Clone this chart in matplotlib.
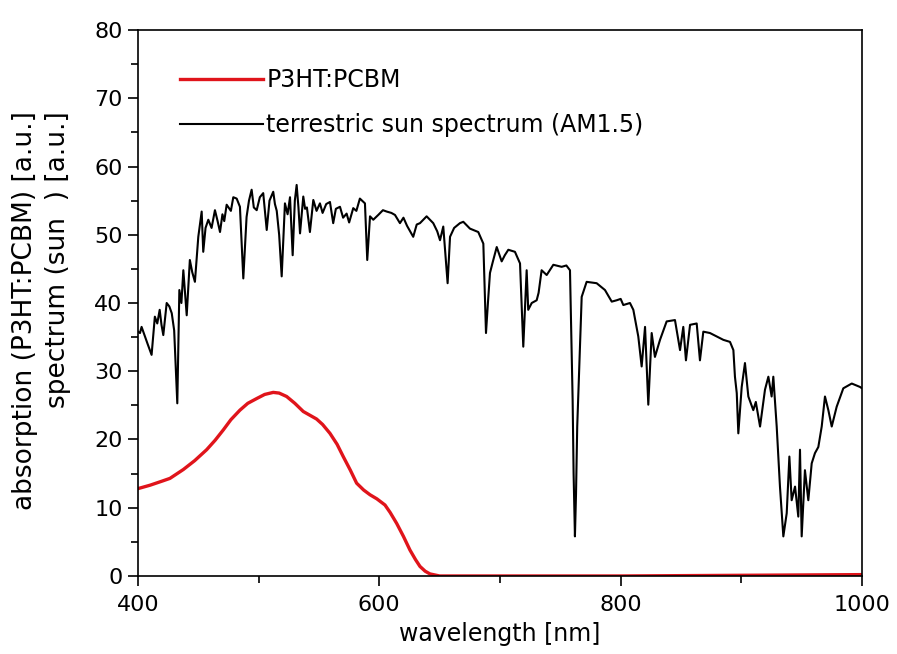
import matplotlib
matplotlib.use("Agg")
import matplotlib.pyplot as plt
from matplotlib.ticker import MultipleLocator

plt.rcParams['font.family'] = ['DejaVu Sans']

# terrestrial sun spectrum (AM1.5)
sun_nm = [400, 401.7, 403, 405.8, 408, 411.3, 414, 416, 418, 419.5, 421, 423.8,
          426, 428, 430, 432.6, 434.3, 436, 437.6, 440.4, 443, 445, 447.2, 450,
          452.8, 454.1, 456, 458.3, 461, 463.8, 466, 468, 470, 471.5, 473.5, 477,
          479, 481.8, 484.5, 487.3, 490, 492, 494.2, 496, 498.4, 501, 503.8,
          506.7, 509, 512.1, 513.5, 515, 517, 519.1, 521.8, 524, 526, 528.2, 530,
          531.5, 533, 534.3, 537, 538.5, 540, 542.5, 545.3, 548, 550.8, 553,
          556, 559.1, 561.8, 564, 567.4, 570, 572.9, 575, 578.4, 581, 583.9,
          588.1, 590, 592.3, 595, 599.1, 603, 606.1, 610, 613, 617.1, 620, 623,
          628.1, 631, 633.7, 639.2, 644.7, 648, 650.3, 653, 656.6, 658.6, 662,
          666.8, 669.6, 675.1, 682, 686.2, 688.4, 690, 691.7, 694, 697.3, 701.4,
          704, 706.9, 712.4, 716.6, 719.3, 722.1, 723.4, 726.3, 730.4, 732, 734.5,
          738.7, 744.2, 751.1, 755, 758, 760.2, 761, 762.1, 763, 764, 767.7, 771.8,
          780.1, 787, 792.6, 796.7, 800, 802.2, 807.7, 810.5, 814.6, 817.4, 820.2,
          822.9, 825.7, 828.4, 832.6, 838.1, 845, 849.2, 851.9, 854.1, 857.5, 863,
          865.7, 868.5, 874, 879.6, 885.1, 890.6, 893.4, 894.7, 896.2, 897.5, 900.3,
          903, 905.8, 909.9, 912, 915.5, 919.6, 922.4, 925.1, 926.5, 929.3, 932,
          934.8, 937.6, 939.8, 941.7, 944.5, 947.2, 948.6, 950, 952.7, 955.5, 958.3,
          961, 963.8, 966.6, 969.3, 972.1, 974.9, 979, 984.5, 991.5, 998.3, 1000]
sun_val = [35.8, 35.6, 36.5, 35.1, 34, 32.4, 38, 37, 39, 36.8, 35.3, 40,
           39.5, 38.5, 36, 25.3, 41.9, 40, 44.8, 38.2, 46.3, 44.5, 43.1, 49.7,
           53.4, 47.5, 51, 52.2, 51, 53.6, 52, 50.4, 53, 52, 54.4, 53.5,
           55.5, 55.3, 54.1, 43.6, 52.6, 55, 56.6, 54, 53.6, 55.5, 56.1,
           50.7, 55, 56.3, 54.5, 53.5, 50, 43.9, 54.6, 53, 55.5, 47.0, 55,
           57.3, 54, 50.2, 55.6, 53.8, 54, 50.4, 55.1, 53.5, 54.6, 53.2,
           54.5, 54.8, 51.7, 53.8, 54.1, 52.5, 53.1, 51.8, 53.9, 53.5, 55.3,
           54.6, 46.3, 52.7, 52.2, 52.9, 53.6, 53.4, 53.2, 52.9, 51.7, 52.5, 51.3,
           49.7, 51.5, 51.7, 52.7, 51.7, 50.5, 49.2, 51.2, 42.9, 49.7, 51,
           51.7, 51.9, 50.9, 50.4, 48.7, 35.6, 40, 44.4, 46, 48.2, 46.1,
           47, 47.8, 47.5, 45.8, 33.6, 44.8, 39.0, 40, 40.4, 41.5, 44.8,
           44.1, 45.6, 45.3, 45.5, 44.8, 25.8, 15, 5.8, 12, 21.9, 40.9, 43.1,
           42.9, 41.9, 40.2, 40.4, 40.6, 39.7, 40, 39, 35.1, 30.7, 36.5,
           25.1, 35.6, 32.1, 34.6, 37.3, 37.5, 33.1, 36.5, 31.6, 36.8, 37,
           31.6, 35.8, 35.6, 35.1, 34.6, 34.3, 33.1, 29.2, 26.8, 20.9, 27.7,
           31.2, 26.3, 24.3, 25.5, 21.9, 27.3, 29.2, 26.3, 29.2, 21.9, 13.1,
           5.8, 9.2, 17.5, 11.1, 13.1, 8.7, 18.5, 5.8, 15.5, 11.1, 16.5,
           18.0, 18.9, 21.9, 26.3, 24.3, 21.9, 24.8, 27.5, 28.2, 27.7, 27.5]

# P3HT:PCBM absorption
abs_nm = [400, 410, 420, 426.5, 437.6, 447, 456.9, 464, 470.7, 477, 484.5, 491,
          498.4, 505, 512.1, 517, 523.2, 530, 537, 542, 548, 553, 559.1, 565,
          570.1, 576, 581.2, 587, 592.3, 598, 604.7, 609, 614.4, 620, 625.4,
          630, 633.7, 638, 642, 650, 800, 1000]
abs_val = [12.8, 13.3, 13.9, 14.3, 15.6, 16.9, 18.5, 19.9, 21.4, 22.9, 24.3, 25.3,
           26.0, 26.6, 26.9, 26.8, 26.3, 25.3, 24.1, 23.6, 23.0, 22.2, 20.9, 19.3,
           17.5, 15.5, 13.6, 12.6, 11.9, 11.3, 10.4, 9.3, 7.7, 5.8, 3.8,
           2.4, 1.4, 0.7, 0.3, 0.0, 0.0, 0.2]

fig = plt.figure(figsize=(8.97, 6.54), dpi=100)
ax = fig.add_axes([0.1538, 0.1193, 0.8072, 0.8348])

ax.plot(abs_nm, abs_val, color='#e0141b', lw=2.4, label='P3HT:PCBM',
        solid_joinstyle='round')
ax.plot(sun_nm, sun_val, color='black', lw=1.5,
        label='terrestric sun spectrum (AM1.5)')

ax.set_xlim(400, 1000)
ax.set_ylim(0, 80)
ax.xaxis.set_major_locator(MultipleLocator(200))
ax.xaxis.set_minor_locator(MultipleLocator(100))
ax.yaxis.set_major_locator(MultipleLocator(10))
ax.yaxis.set_minor_locator(MultipleLocator(5))
ax.tick_params(which='major', direction='out', length=7, width=1.2,
               labelsize=16, pad=4)
ax.tick_params(axis='x', which='major', pad=7)
ax.tick_params(which='minor', direction='out', length=5, width=1.2)
for s in ax.spines.values():
    s.set_linewidth(1.2)

ax.set_xlabel('wavelength [nm]', fontsize=17, labelpad=5)
fig.text(0.028, 0.83, 'absorption (P3HT:PCBM) [a.u.]', rotation=90,
         ha='center', va='top', fontsize=19)
fig.text(0.065, 0.83, 'spectrum (sun  ) [a.u.]', rotation=90,
         ha='center', va='top', fontsize=19)

ax.legend(loc='upper left', bbox_to_anchor=(0.058, 0.93), frameon=False,
          fontsize=17, handlelength=3.5, handletextpad=0.15,
          borderpad=0, borderaxespad=0, labelspacing=0.9)

fig.savefig('out.png', dpi=100)
